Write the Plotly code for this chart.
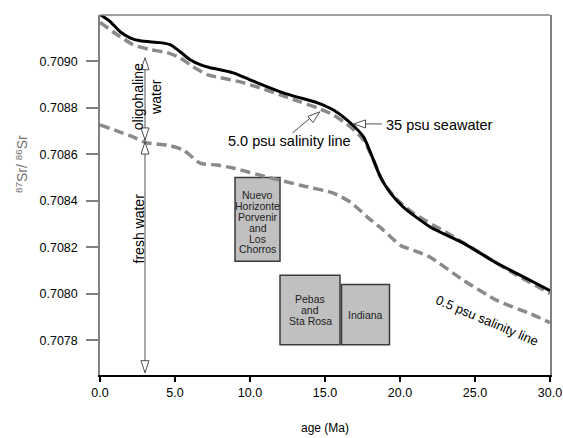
import math
import plotly.graph_objects as go

# ---------------- data ----------------
seawater_age = [0, 0.67, 1.34, 2.0, 2.67, 4.0, 4.68, 5.34, 6.01, 6.68, 7.35, 8.02, 8.88, 10.0, 11.16, 12.22, 13.36, 14.5, 15.56, 16.7, 17.57, 18.04, 18.7, 19.37, 20.24, 22.04, 24.25, 26.5, 28.7, 30.0]
seawater_sr = [0.709202, 0.709172, 0.709128, 0.709102, 0.709089, 0.709081, 0.709072, 0.709042, 0.709007, 0.708986, 0.708973, 0.708964, 0.708951, 0.708921, 0.708891, 0.708865, 0.708843, 0.708822, 0.708791, 0.708735, 0.708675, 0.708606, 0.708502, 0.708433, 0.708372, 0.708286, 0.708217, 0.708130, 0.708057, 0.708013]

psu5_age = [0, 1.34, 2.2, 3.34, 4.48, 5.34, 6.21, 7.15, 8.02, 9.35, 10.69, 12.02, 13.36, 14.5, 15.56, 16.7, 17.57, 18.24, 18.9, 19.84, 20.9, 23.18, 25.38, 27.6, 30.0]
psu5_sr = [0.709168, 0.709107, 0.709072, 0.709051, 0.709038, 0.709016, 0.708977, 0.708943, 0.708930, 0.708912, 0.708886, 0.708856, 0.708826, 0.708800, 0.708770, 0.708718, 0.708662, 0.708575, 0.708476, 0.708403, 0.708346, 0.708260, 0.708174, 0.708087, 0.708001]

psu05_age = [0, 1.34, 2.2, 3.14, 4.48, 5.54, 6.68, 7.8, 8.88, 11.16, 13.36, 15.56, 16.7, 17.84, 18.9, 20.04, 20.9, 22.04, 24.25, 26.5, 28.7, 30.0]
psu05_sr = [0.708727, 0.708696, 0.708675, 0.708649, 0.708640, 0.708619, 0.708562, 0.708554, 0.708541, 0.708502, 0.708467, 0.708433, 0.708394, 0.708329, 0.708273, 0.708208, 0.708187, 0.708156, 0.708057, 0.707970, 0.707914, 0.707875]

box_labels = ["Nuevo<br>Horizonte<br>Porvenir<br>and<br>Los<br>Chorros", "Pebas<br>and<br>Sta Rosa", "Indiana"]
box_age_start = [9.0, 12.0, 16.1]
box_age_end = [12.0, 16.0, 19.3]
box_sr_low = [0.70814, 0.70778, 0.70778]
box_sr_high = [0.70850, 0.70808, 0.70804]

x_ticks = [0, 5, 10, 15, 20, 25, 30]
y_ticks = [0.7078, 0.7080, 0.7082, 0.7084, 0.7086, 0.7088, 0.7090]

# ---------------- layout constants ----------------
W, H = 563, 438
M_L, M_R, M_T, M_B = 100, 13, 15, 63
X_RANGE = [0, 30]
Y_RANGE = [0.70765, 0.70920]
PW, PH = W - M_L - M_R, H - M_T - M_B
PX_X = (X_RANGE[1] - X_RANGE[0]) / PW
PX_Y = (Y_RANGE[1] - Y_RANGE[0]) / PH

FONT = "Liberation Sans, Arial, sans-serif"
GRAY_DASH = "#8a8a8a"
ARROW_C = "#505050"

fig = go.Figure()

shapes = []
annotations = []
LINE_GAP = 10.8  # px between lines of box labels
for lab, x0, x1, y0, y1 in zip(box_labels, box_age_start, box_age_end, box_sr_low, box_sr_high):
    shapes.append(dict(type="rect", xref="x", yref="y", x0=x0, x1=x1, y0=y0, y1=y1,
                       fillcolor="#c0c0c0", line=dict(color="#3a3a3a", width=1.5), layer="below"))
    lines = lab.split("<br>")
    n = len(lines)
    shift = -3 if n > 3 else 0
    for i, ln in enumerate(lines):
        off = (i - (n - 1) / 2) * LINE_GAP
        annotations.append(dict(x=(x0 + x1) / 2, y=(y0 + y1) / 2, yshift=-off + shift, xref="x", yref="y",
                                text=ln, showarrow=False,
                                font=dict(family=FONT, size=10.5, color="#222")))

fig.add_trace(go.Scatter(x=psu05_age, y=psu05_sr, mode="lines", line_shape="spline",
                         line=dict(color=GRAY_DASH, width=3.5, dash="10px,5px", smoothing=0.6),
                         showlegend=False))
fig.add_trace(go.Scatter(x=psu5_age, y=psu5_sr, mode="lines", line_shape="spline",
                         line=dict(color=GRAY_DASH, width=3.5, dash="10px,5px", smoothing=0.6),
                         showlegend=False))
fig.add_trace(go.Scatter(x=seawater_age, y=seawater_sr, mode="lines", line_shape="spline",
                         line=dict(color="black", width=3, smoothing=0.6), showlegend=False))


def tri(tip_x, tip_y, dx, dy, length=12, half_w=4):
    n = math.hypot(dx, dy)
    ux, uy = dx / n, dy / n
    bx, by = -ux * length, -uy * length
    px_, py_ = -uy, ux
    pts = [(0, 0), (bx + px_ * half_w, by + py_ * half_w), (bx - px_ * half_w, by - py_ * half_w)]
    path = "M " + " L ".join(f"{tip_x + ox * PX_X},{tip_y - oy * PX_Y}" for ox, oy in pts) + " Z"
    return dict(type="path", xref="x", yref="y", path=path, fillcolor="white",
                line=dict(color=ARROW_C, width=1), layer="above")


def seg(x0, y0, x1, y1):
    return dict(type="line", xref="x", yref="y", x0=x0, y0=y0, x1=x1, y1=y1,
                line=dict(color=ARROW_C, width=1), layer="above")

# vertical double arrows
AX = 3.0
shapes.append(seg(AX, 0.70901, AX, 0.70766))
shapes.append(tri(AX, 0.709016, 0, -1))
shapes.append(tri(AX, 0.708662, 0, 1))
shapes.append(tri(AX, 0.708653, 0, -1))
shapes.append(tri(AX, 0.70766, 0, 1))

# 5.0 psu pointer
shapes.append(seg(12.83, 0.708692, 14.3, 0.708772))
shapes.append(tri(14.65, 0.708783, 28, -23))
# 35 psu pointer
shapes.append(seg(17.0, 0.708731, 18.8, 0.708731))
shapes.append(tri(16.9, 0.708731, -1, 0))

# frame top line
shapes.append(dict(type="line", xref="paper", yref="paper", x0=0, x1=1, y0=1, y1=1,
                   line=dict(color="#808080", width=1.5), layer="above"))

annotations += [
    dict(x=3.15, y=0.708847, xref="x", yref="y", text="oligohaline<br>water", textangle=-90,
         showarrow=False, font=dict(family=FONT, size=14, color="black"), align="center"),
    dict(x=2.6, y=0.708281, xref="x", yref="y", text="fresh water", textangle=-90,
         showarrow=False, font=dict(family=FONT, size=14, color="black")),
    dict(x=12.66, y=0.708657, xref="x", yref="y", text="5.0 psu salinity line",
         showarrow=False, font=dict(family=FONT, size=14.5, color="black")),
    dict(x=18.95, y=0.708726, xref="x", yref="y", text="35 psu seawater", xanchor="left",
         showarrow=False, font=dict(family=FONT, size=14.5, color="black")),
    dict(x=25.8, y=0.707884, xref="x", yref="y", text="0.5 psu salinity line", textangle=23,
         showarrow=False, font=dict(family=FONT, size=13, color="black")),
    dict(x=-0.175, y=0.708560, xref="paper", yref="y", xanchor="center",
         text="<sup>87</sup>Sr/ <sup>86</sup>Sr",
         textangle=-90, showarrow=False, font=dict(family=FONT, size=14, color="#707070")),
    dict(x=0.5, y=-0.147, xref="paper", yref="paper", text="age (Ma)", yanchor="middle",
         showarrow=False, font=dict(family=FONT, size=12, color="black")),
]

fig.update_layout(
    width=W, height=H,
    margin=dict(l=M_L, r=M_R, t=M_T, b=M_B, pad=0, autoexpand=False),
    paper_bgcolor="white", plot_bgcolor="white",
    shapes=shapes, annotations=annotations,
    font=dict(family=FONT, size=12, color="black"),
    xaxis=dict(range=X_RANGE, tickvals=x_ticks, ticktext=[f"{v:.1f}" for v in x_ticks],
               showgrid=False, zeroline=False, showline=True, linecolor="black", linewidth=2,
               ticks="outside", ticklen=5, tickcolor="black", tickwidth=1.5, automargin=False,
               tickfont=dict(family=FONT, size=12.5, color="black")),
    yaxis=dict(range=Y_RANGE, tickvals=y_ticks, ticktext=[f"{v:.4f}" for v in y_ticks],
               showgrid=False, zeroline=False, showline=True, linecolor="#808080", linewidth=1.5,
               mirror=True, ticks="outside", ticklen=12, tickcolor="#808080", tickwidth=1.5,
               ticklabelstandoff=6, automargin=False,
               tickfont=dict(family=FONT, size=12.5, color="black")),
)

fig.write_html("out.html", config={"displayModeBar": False},
               post_script="document.body.style.margin='0px';document.body.style.overflow='hidden';")
